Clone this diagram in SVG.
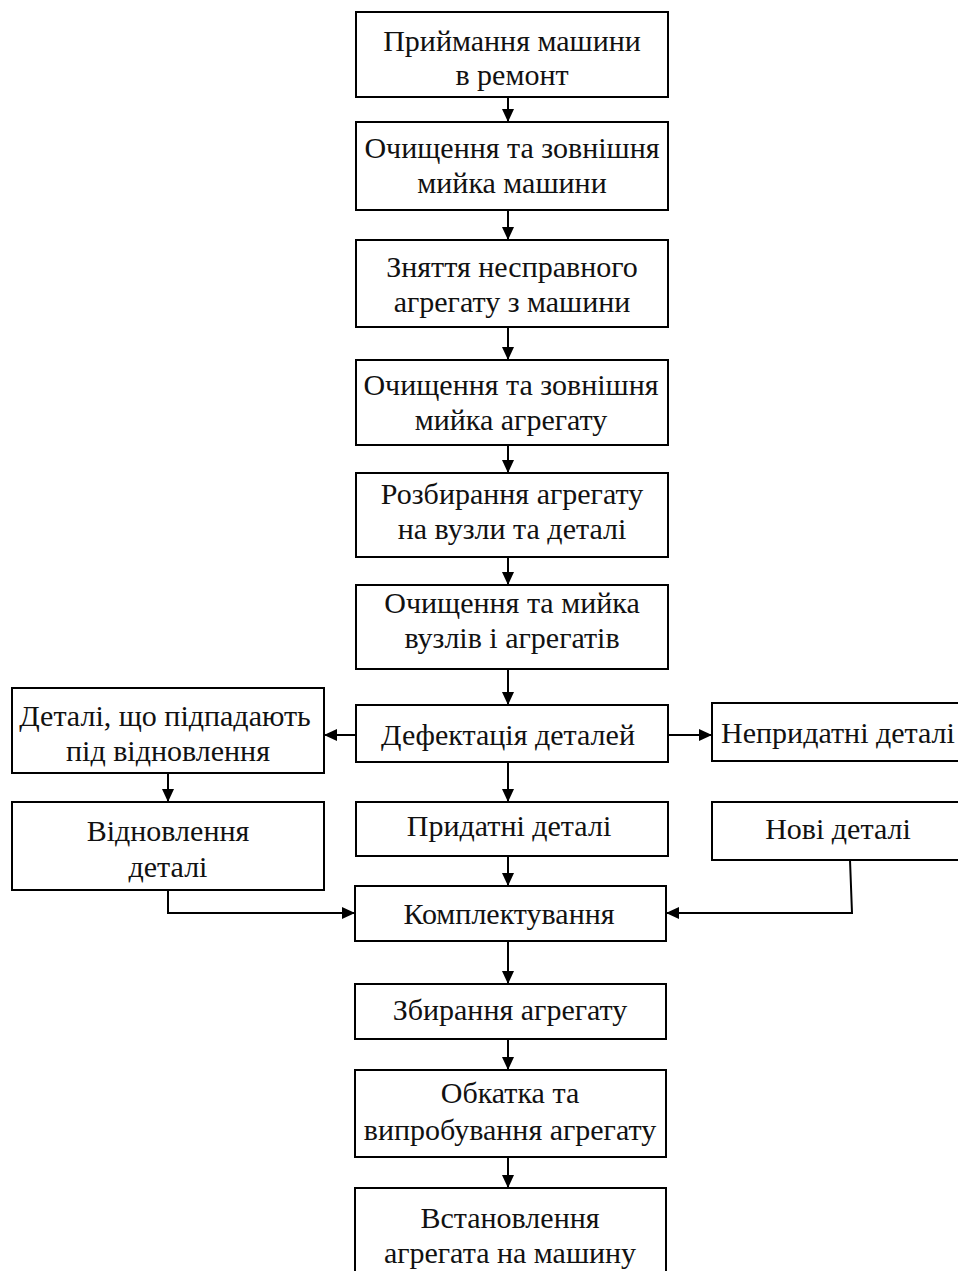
<svg xmlns="http://www.w3.org/2000/svg" width="958" height="1271" viewBox="0 0 958 1271">
<defs>
<style>
rect{fill:#fff;stroke:#000;stroke-width:2}
text{font-family:"Liberation Serif","Times New Roman",serif;font-size:30px;fill:#111;text-anchor:middle}
.c{fill:none;stroke:#000;stroke-width:2}
</style>
<marker id="a" markerWidth="13" markerHeight="12" refX="12" refY="6" orient="auto" markerUnits="userSpaceOnUse" viewBox="0 0 13 12">
<path d="M0,0 L13,6 L0,12 z" fill="#000"/>
</marker>
</defs>
<rect width="958" height="1271" fill="#fff" style="stroke:none"/>
<g id="n1"><rect x="356" y="12" width="312" height="85"/><text x="512" y="51">Приймання машини</text><text x="512" y="85">в ремонт</text></g>
<g id="n2"><rect x="356" y="122" width="312" height="88"/><text x="512" y="158">Очищення та зовнішня</text><text x="512" y="193">мийка машини</text></g>
<g id="n3"><rect x="356" y="240" width="312" height="87"/><text x="512" y="277">Зняття несправного</text><text x="512" y="312">агрегату з машини</text></g>
<g id="n4"><rect x="356" y="360" width="312" height="85"/><text x="511" y="395">Очищення та зовнішня</text><text x="511" y="430">мийка агрегату</text></g>
<g id="n5"><rect x="356" y="473" width="312" height="84"/><text x="512" y="504">Розбирання агрегату</text><text x="512" y="539">на вузли та деталі</text></g>
<g id="n6"><rect x="356" y="585" width="312" height="84"/><text x="512" y="613">Очищення та мийка</text><text x="512" y="648">вузлів і агрегатів</text></g>
<g id="n7"><rect x="356" y="705" width="312" height="57"/><text x="508" y="745">Дефектація деталей</text></g>
<g id="n8"><rect x="12" y="688" width="312" height="85"/><text x="165" y="726">Деталі, що підпадають</text><text x="168" y="761">під відновлення</text></g>
<g id="n9"><rect x="712" y="703" width="250" height="58"/><text x="838" y="743">Непридатні деталі</text></g>
<g id="n10"><rect x="12" y="802" width="312" height="88"/><text x="168" y="841">Відновлення</text><text x="168" y="877">деталі</text></g>
<g id="n11"><rect x="356" y="802" width="312" height="54"/><text x="509" y="836">Придатні деталі</text></g>
<g id="n12"><rect x="712" y="802" width="250" height="58"/><text x="838" y="839">Нові деталі</text></g>
<g id="n13"><rect x="355" y="886" width="311" height="55"/><text x="509" y="924">Комплектування</text></g>
<g id="n14"><rect x="355" y="984" width="311" height="55"/><text x="510" y="1020">Збирання агрегату</text></g>
<g id="n15"><rect x="355" y="1070" width="311" height="87"/><text x="510" y="1103">Обкатка та</text><text x="510" y="1140">випробування агрегату</text></g>
<g id="n16"><rect x="355" y="1188" width="311" height="100"/><text x="510" y="1228">Встановлення</text><text x="510" y="1263">агрегата на машину</text></g>
<g id="connectors">
<path class="c" d="M508,97 V121" marker-end="url(#a)"/>
<path class="c" d="M508,210 V239" marker-end="url(#a)"/>
<path class="c" d="M508,327 V359" marker-end="url(#a)"/>
<path class="c" d="M508,445 V472" marker-end="url(#a)"/>
<path class="c" d="M508,557 V584" marker-end="url(#a)"/>
<path class="c" d="M508,669 V704" marker-end="url(#a)"/>
<path class="c" d="M356,735 H325" marker-end="url(#a)"/>
<path class="c" d="M668,735 H711" marker-end="url(#a)"/>
<path class="c" d="M508,762 V801" marker-end="url(#a)"/>
<path class="c" d="M168,773 V801" marker-end="url(#a)"/>
<path class="c" d="M508,856 V885" marker-end="url(#a)"/>
<path class="c" d="M168,890 V913 H354" marker-end="url(#a)"/>
<path class="c" d="M850,860 L852,913 H667" marker-end="url(#a)"/>
<path class="c" d="M508,941 V983" marker-end="url(#a)"/>
<path class="c" d="M508,1039 V1069" marker-end="url(#a)"/>
<path class="c" d="M508,1157 V1187" marker-end="url(#a)"/>
</g>
</svg>
